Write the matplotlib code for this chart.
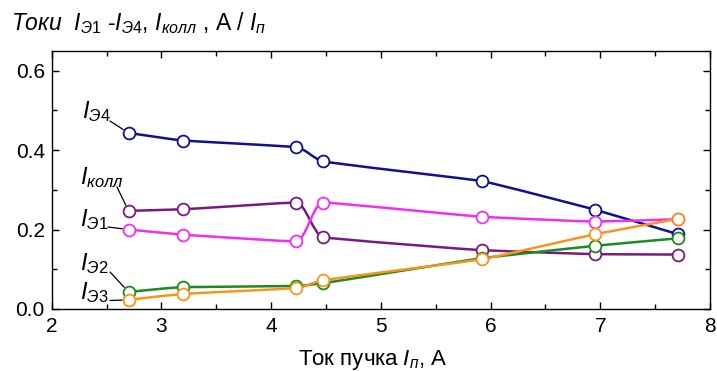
import numpy as np
import matplotlib
matplotlib.use("Agg")
import matplotlib.pyplot as plt
from matplotlib.path import Path
from matplotlib.patches import PathPatch
from matplotlib.ticker import MultipleLocator

plt.rcParams['font.family'] = ['Liberation Sans', 'DejaVu Sans']
plt.rcParams['mathtext.fontset'] = 'custom'
plt.rcParams['mathtext.rm'] = 'Liberation Sans'
plt.rcParams['mathtext.it'] = 'Liberation Sans:italic'
plt.rcParams['mathtext.bf'] = 'Liberation Sans:bold'

# ---- data ----
beam_current = [2.70, 3.20, 4.23, 4.47, 5.92, 6.95, 7.71]
i_e4 = [0.443, 0.424, 0.407, 0.372, 0.322, 0.250, 0.188]
i_koll = [0.247, 0.251, 0.268, 0.181, 0.148, 0.138, 0.137]
i_e1 = [0.200, 0.187, 0.170, 0.268, 0.232, 0.220, 0.226]
i_e2 = [0.043, 0.055, 0.058, 0.065, 0.128, 0.159, 0.178]
i_e3 = [0.023, 0.038, 0.053, 0.072, 0.125, 0.188, 0.227]

series_values = [i_e4, i_koll, i_e1, i_e2, i_e3]
series_colors = ['#101090', '#7a1a80', '#f030f0', '#1f8a1f', '#f5961e']
series_labels = [r'$\mathit{I}_{\mathit{Э4}}$', r'$\mathit{I}_{\mathit{колл}}$',
                 r'$\mathit{I}_{\mathit{Э1}}$', r'$\mathit{I}_{\mathit{Э2}}$',
                 r'$\mathit{I}_{\mathit{Э3}}$']
x_ticks = [2, 3, 4, 5, 6, 7, 8]
y_ticks = [0.0, 0.2, 0.4, 0.6]


def slopes(x, y):
    x = np.asarray(x, float)
    y = np.asarray(y, float)
    h = np.diff(x)
    d = np.diff(y) / h
    n = len(x)
    m = np.zeros(n)
    for k in range(1, n - 1):
        if d[k - 1] * d[k] <= 0:
            m[k] = 0.0
        else:
            w1 = 2 * h[k] + h[k - 1]
            w2 = h[k] + 2 * h[k - 1]
            m[k] = (w1 + w2) / (w1 / d[k - 1] + w2 / d[k])
    m[0] = d[0]
    m[-1] = d[-1]
    return m


def smooth_path(x, y, hmax=0.1):
    m = slopes(x, y)
    verts = [(x[0], y[0])]
    codes = [Path.MOVETO]
    for k in range(len(x) - 1):
        h = min((x[k + 1] - x[k]) / 3, hmax)
        verts += [(x[k] + h, y[k] + m[k] * h),
                  (x[k + 1] - h, y[k + 1] - m[k + 1] * h),
                  (x[k + 1], y[k + 1])]
        codes += [Path.CURVE4] * 3
    return Path(verts, codes)


W, H = 717, 371
fig = plt.figure(figsize=(W / 100, H / 100), dpi=100)
L, R, B, T = 51.7, 710, 309, 50.7
ax = fig.add_axes([L / W, 1 - B / H, (R - L) / W, (B - T) / H])

for vals, col in zip(series_values, series_colors):
    patch = PathPatch(smooth_path(beam_current, vals), facecolor='none',
                      edgecolor=col, lw=1.8, zorder=2)
    ax.add_patch(patch)
    ax.plot(beam_current, vals, ls='none', marker='o', ms=8.5, mfc='white',
            mec=col, mew=1.3, zorder=3)

ax.set_xlim(2, 8)
ax.set_ylim(0, 0.65)
ax.set_xticks(x_ticks)
ax.set_yticks(y_ticks)
ax.set_yticklabels([f'{v:.1f}' for v in y_ticks])
ax.xaxis.set_minor_locator(MultipleLocator(0.5))
ax.yaxis.set_minor_locator(MultipleLocator(0.1))
ax.tick_params(which='both', direction='in', top=True, right=True,
               labelsize=15, width=1.0)
ax.tick_params(which='major', length=5)
ax.tick_params(which='minor', length=3.5)
ax.tick_params(axis='x', pad=6)
ax.tick_params(axis='y', pad=5)
for sp in ax.spines.values():
    sp.set_linewidth(1.0)


def px(xp, yp):
    return ((xp - L) / (R - L), (B - yp) / (B - T))


label_text_pos = [(111, 112), (124, 178), (108, 220), (108, 264), (108, 293)]
leader_start = [(110, 121), (117, 187), (108, 227), (110, 272), (110, 300.5)]
for k, (lab, vals) in enumerate(zip(series_labels, series_values)):
    tx, ty = px(*label_text_pos[k])
    ax.text(tx, ty, lab, transform=ax.transAxes, ha='right', va='center',
            fontsize=17, zorder=5)
    sx, sy = px(*leader_start[k])
    ax.annotate('', xy=(beam_current[0], vals[0]), xycoords='data',
                xytext=(sx, sy), textcoords='axes fraction',
                arrowprops=dict(arrowstyle='-', lw=0.9, color='black',
                                shrinkA=0, shrinkB=4.5), zorder=1)

fig.text(11 / W, 1 - 30 / H,
         r'$\mathit{Токи}$  $\mathit{I}_{\mathit{Э1}}$ -$\mathit{I}_{\mathit{Э4}}$, '
         r'$\mathit{I}_{\mathit{колл}}$ , А / $\mathit{I}_{\mathit{п}}$',
         fontsize=16.5, ha='left', va='baseline')
fig.text(373 / W, 1 - 365 / H, r'Ток пучка $\mathit{I}_{\mathit{п}}$, А',
         fontsize=16, ha='center', va='baseline')

fig.savefig('out.png', dpi=100)
